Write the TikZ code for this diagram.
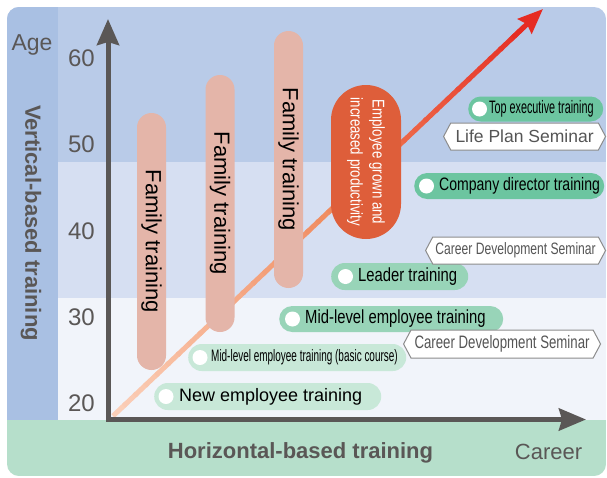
\documentclass[tikz,border=0pt]{standalone}
\usepackage{fontspec}
\setmainfont{Liberation Sans}
\newfontfamily\narrowfont[FakeStretch=0.78]{Liberation Sans}
\newfontfamily\slimfont[FakeStretch=0.735]{Liberation Sans}
\newfontfamily\tightfont[FakeStretch=0.6]{Liberation Sans}
\usetikzlibrary{calc, positioning, shapes.misc, shapes.symbols, arrows.meta}

\definecolor{bandtop}{HTML}{B9CBE8}
\definecolor{bandmid}{HTML}{D6DFF2}
\definecolor{bandlow}{HTML}{F1F4FA}
\definecolor{agecol}{HTML}{A9C0E3}
\definecolor{careerband}{HTML}{B6DFCB}
\definecolor{axisgray}{HTML}{5A5756}
\definecolor{fampink}{HTML}{E4B5A9}
\definecolor{growoval}{HTML}{DE5E3A}
\definecolor{growlow}{HTML}{FBCFB8}
\definecolor{growmid}{HTML}{F08A5E}
\definecolor{growhigh}{HTML}{E5221D}
\definecolor{pilldark}{HTML}{6CC5A0}
\definecolor{pillmid}{HTML}{98D4B8}
\definecolor{pilllight}{HTML}{C8E8D8}
\definecolor{semborder}{HTML}{8C8C8C}
\definecolor{semtext}{HTML}{555555}

\tikzset{
  axis/.style={draw=axisgray, line width=5pt, line join=miter},
  tick/.style={text=axisgray, anchor=base, inner sep=0pt, font=\fontsize{24pt}{26pt}\selectfont},
  axislabel/.style={text=axisgray, inner sep=0pt, font=\bfseries\fontsize{22pt}{24pt}\selectfont},
  famtraining/.style={rounded rectangle, rotate=-90, fill=fampink, minimum width=257pt,
    minimum height=29pt, inner sep=0pt, font=\fontsize{22pt}{24pt}\selectfont},
  pill/.style={rounded rectangle, minimum height=26pt, inner sep=0pt, anchor=west},
  dot/.style={circle, fill=white, minimum size=15pt, inner sep=0pt},
  pilltext/.style={anchor=west, inner sep=0pt, text=black},
  seminar/.style={signal, signal to=west and east, signal pointer angle=124, draw=semborder,
    fill=white, line width=1pt, minimum height=27pt, inner sep=0pt, text=semtext, anchor=west},
}

\begin{document}
\begin{tikzpicture}[x=1pt, y=-1pt]
  \useasboundingbox[fill=white] (0,0) rectangle (607,477);

  % Age bands
  \begin{scope}
    \clip[rounded corners=12pt] (7,7) rectangle (606,476);
    \fill[bandtop] (7,7) rectangle (606,162);
    \fill[bandmid] (7,162) rectangle (606,298);
    \fill[bandlow] (7,298) rectangle (606,419.5);
    \fill[agecol] (7,7) rectangle (58,419.5);
    \fill[careerband] (7,419.5) rectangle (606,476);
  \end{scope}

  % Growth arrow
  \coordinate (growstart) at (113,416);
  \coordinate (growend) at (543,9);
  \foreach \i in {0,...,37}{
    \pgfmathsetmacro\ta{\i/40}
    \pgfmathsetmacro\tb{(\i+1.2)/40}
    \pgfmathtruncatemacro\p{\i<20 ? 5*\i : 5*(\i-20)}
    \ifnum\i<20 \colorlet{segcol}{growmid!\p!growlow}\else \colorlet{segcol}{growhigh!\p!growmid}\fi
    \draw[segcol, line width=5pt] ($(growstart)!\ta!(growend)$) -- ($(growstart)!\tb!(growend)$);
  }
  \draw[growhigh!90!growmid, line width=5pt, -{Stealth[length=25pt, width=20pt, inset=3pt]}]
    ($(growstart)!0.93!(growend)$) -- (growend);

  % Axes
  \coordinate (origin) at (108,419.5);
  \coordinate (agetop) at (108,19);
  \coordinate (careerend) at (586,419.5);
  \draw[axis, {Stealth[length=26pt, width=22pt, inset=3pt]}-{Stealth[length=27pt, width=22pt, inset=3pt]}]
    (agetop) -- (origin) -- (careerend);

  % Ages
  \node[tick, font=\fontsize{23pt}{25pt}\selectfont] (age) at (32,50) {Age};
  \node[tick] (age60) at (81.5,66) {60};
  \node[tick] (age50) at (81.5,152) {50};
  \node[tick] (age40) at (81.5,239) {40};
  \node[tick] (age30) at (81.5,325) {30};
  \node[tick] (age20) at (81.5,411) {20};

  \node[axislabel, rotate=-90] (vertical) at (31,223) {Vertical-based training};
  \node[axislabel, anchor=base] (horizontal) at (300.5,458) {Horizontal-based training};
  \node[anchor=base, inner sep=0pt, text=axisgray, font=\fontsize{22pt}{24pt}\selectfont] (career) at (548.5,459) {Career};

  % Family training
  \node[famtraining] (family1) at (151.5,241.5) {Family training};
  \node[famtraining] (family2) at (220,203.5) {Family training};
  \node[famtraining] (family3) at (288.5,159.5) {Family training};

  % Employee growth
  \node[rounded rectangle, rotate=-90, fill=growoval, minimum width=154pt, minimum height=70pt,
    inner sep=0pt, text=white, align=center, font=\fontsize{17pt}{22pt}\narrowfont] (grow) at (366,162)
    {Employee grown and\\increased productivity};

  % Training courses
  \node[pill, fill=pilldark, minimum width=135pt, minimum height=25pt] (topexec) at (468,109) {};
  \node[dot] (topexecdot) at ([xshift=11.5pt]topexec.west) {};
  \node[pilltext, font=\fontsize{18pt}{20pt}\tightfont] (topexectext) at ([xshift=21pt]topexec.west) {Top executive training};

  \node[pill, fill=pilldark, minimum width=190pt] (director) at (414,186) {};
  \node[dot] (directordot) at ([xshift=12.5pt]director.west) {};
  \node[pilltext, font=\fontsize{18pt}{20pt}\narrowfont] (directortext) at ([xshift=25pt]director.west) {Company director training};

  \node[pill, fill=pillmid, minimum width=137pt, minimum height=27pt] (leader) at (331,276.5) {};
  \node[dot] (leaderdot) at ([xshift=14.5pt]leader.west) {};
  \node[pilltext, font=\fontsize{19pt}{21pt}\narrowfont] (leadertext) at ([xshift=27pt]leader.west) {Leader training};

  \node[pill, fill=pillmid, minimum width=224pt] (midlevel) at (279,319) {};
  \node[dot] (midleveldot) at ([xshift=13.5pt]midlevel.west) {};
  \node[pilltext, font=\fontsize{19pt}{21pt}\narrowfont] (midleveltext) at ([xshift=26pt]midlevel.west) {Mid-level employee training};

  \node[pill, fill=pilllight, minimum width=218pt, minimum height=27pt] (basic) at (188,357.5) {};
  \node[dot] (basicdot) at ([xshift=12pt]basic.west) {};
  \node[pilltext, font=\fontsize{16.6pt}{18pt}\tightfont] (basictext) at ([xshift=23pt]basic.west) {Mid-level employee training (basic course)};

  \node[pill, fill=pilllight, minimum width=227pt, minimum height=27pt] (newemp) at (154,396.5) {};
  \node[dot] (newempdot) at ([xshift=12pt]newemp.west) {};
  \node[pilltext, font=\fontsize{18pt}{20pt}\selectfont] (newemptext) at ([xshift=25pt]newemp.west) {New employee training};

  % Seminars
  \node[seminar, minimum width=162pt, font=\fontsize{17.5pt}{19pt}\selectfont] (lifeplan) at (443,136.5) {Life Plan Seminar};
  \node[seminar, minimum width=180pt, font=\fontsize{16.5pt}{18pt}\slimfont] (careerdev1) at (425,250.5) {Career Development Seminar};
  \node[seminar, minimum width=197pt, minimum height=28pt, font=\fontsize{18pt}{20pt}\slimfont] (careerdev2) at (403,344) {Career Development Seminar};
\end{tikzpicture}
\end{document}
